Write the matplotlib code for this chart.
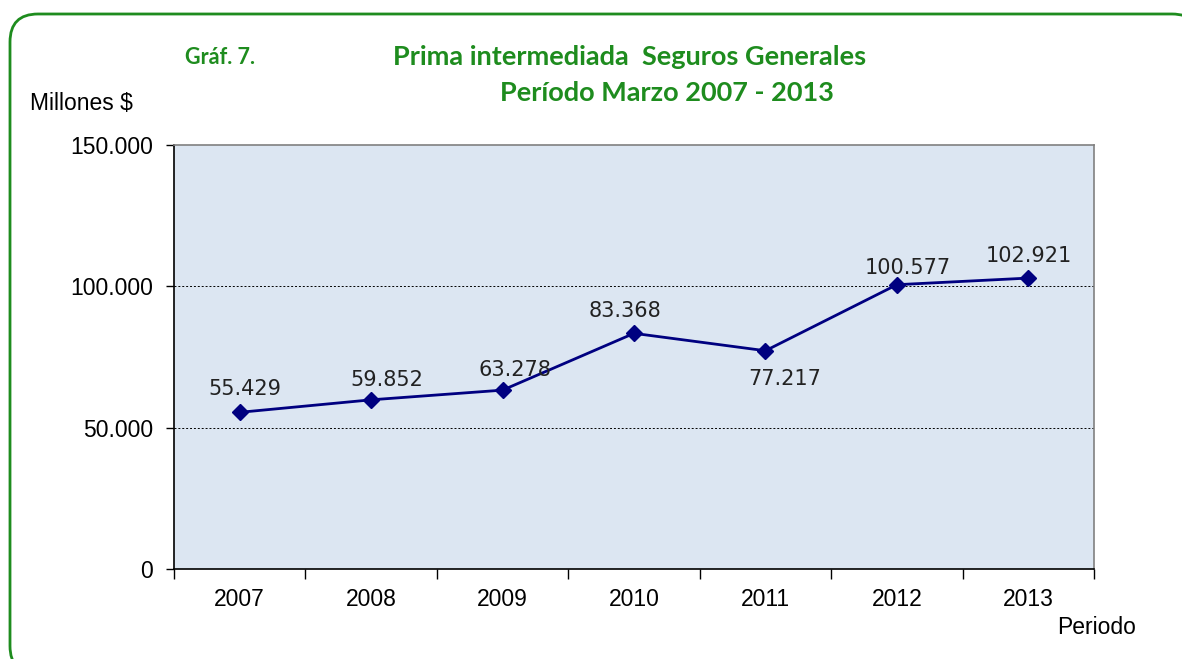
import matplotlib.pyplot as plt
from matplotlib.patches import FancyBboxPatch
from matplotlib.ticker import FuncFormatter, FixedLocator

years = ['2007', '2008', '2009', '2010', '2011', '2012', '2013']
prima = [55429, 59852, 63278, 83368, 77217, 100577, 102921]

# desplazamiento de cada etiqueta (pixeles), como en el original
label_dx = [5, 16, 12, -9, 19, 11, 1]
label_dy = [23, 20, 20, 22, -28, 17, 22]

GREEN = '#1E8C1E'
NAVY = '#000080'


def miles(v, pos=None):
    return f'{int(v):,}'.replace(',', '.')


fig = plt.figure(figsize=(11.82, 6.59), dpi=100)

# marco verde redondeado, en un eje de fondo con unidades de pixel
bg = fig.add_axes([0, 0, 1, 1], zorder=-1)
bg.set_xlim(0, 1182)
bg.set_ylim(659, 0)
bg.axis('off')
bg.add_patch(FancyBboxPatch((10, 14), 1190, 660,
                            boxstyle='round,pad=0,rounding_size=28',
                            facecolor='white', edgecolor=GREEN, linewidth=2))

ax = fig.add_axes([174 / 1182, 1 - 569 / 659, 920 / 1182, 424 / 659])
ax.set_facecolor('#DCE6F2')

x = list(range(len(years)))
ax.plot(x, prima, color=NAVY, linewidth=2, marker='D', markersize=8.5,
        markerfacecolor=NAVY, markeredgecolor=NAVY, zorder=3)

for xi, v, dx, dy in zip(x, prima, label_dx, label_dy):
    ax.annotate(miles(v), (xi, v), xytext=(dx, dy), textcoords='offset pixels',
                ha='center', va='center', fontsize=15, color='#222222',
                family='DejaVu Sans', zorder=4)

ax.set_xlim(-0.5, len(years) - 0.5)
ax.set_ylim(0, 150000)
ax.set_yticks([0, 50000, 100000, 150000])
ax.yaxis.set_major_formatter(FuncFormatter(miles))
ax.set_xticks(x)
ax.set_xticklabels(years)
ax.xaxis.set_minor_locator(FixedLocator([i - 0.5 for i in range(len(years) + 1)]))
ax.tick_params(axis='x', which='major', length=0, pad=14)
ax.tick_params(axis='x', which='minor', length=7, width=1, direction='out')
ax.tick_params(axis='y', length=6, width=1, direction='out', pad=9)
for lab in ax.get_xticklabels() + ax.get_yticklabels():
    lab.set_family('Liberation Sans')
    lab.set_fontsize(16.5)

for yv in [50000, 100000]:
    ax.axhline(yv, color='black', linestyle=(0, (2, 2)), linewidth=0.7, zorder=1)

ax.spines['left'].set_color('black')
ax.spines['bottom'].set_color('black')
ax.spines['top'].set_color('#808080')
ax.spines['right'].set_color('#808080')
for s in ax.spines.values():
    s.set_linewidth(1.2)

fig.text(185 / 1182, 1 - 58 / 659, 'Gráf. 7.', color=GREEN, fontsize=15.5,
         fontweight='bold', family='Lato', va='center')
fig.text(630 / 1182, 1 - 57 / 659, 'Prima intermediada  Seguros Generales',
         color=GREEN, fontsize=19.5, fontweight='bold', family='Lato',
         ha='center', va='center')
fig.text(667 / 1182, 1 - 93 / 659, 'Período Marzo 2007 - 2013',
         color=GREEN, fontsize=19.5, fontweight='bold', family='Lato',
         ha='center', va='center')
fig.text(30 / 1182, 1 - 104 / 659, 'Millones $', fontsize=16.5,
         family='Liberation Sans', va='center')
fig.text(1057 / 1182, 1 - 628 / 659, 'Periodo', fontsize=16.5,
         family='Liberation Sans', va='center')

fig.savefig('out.png', dpi=100)
